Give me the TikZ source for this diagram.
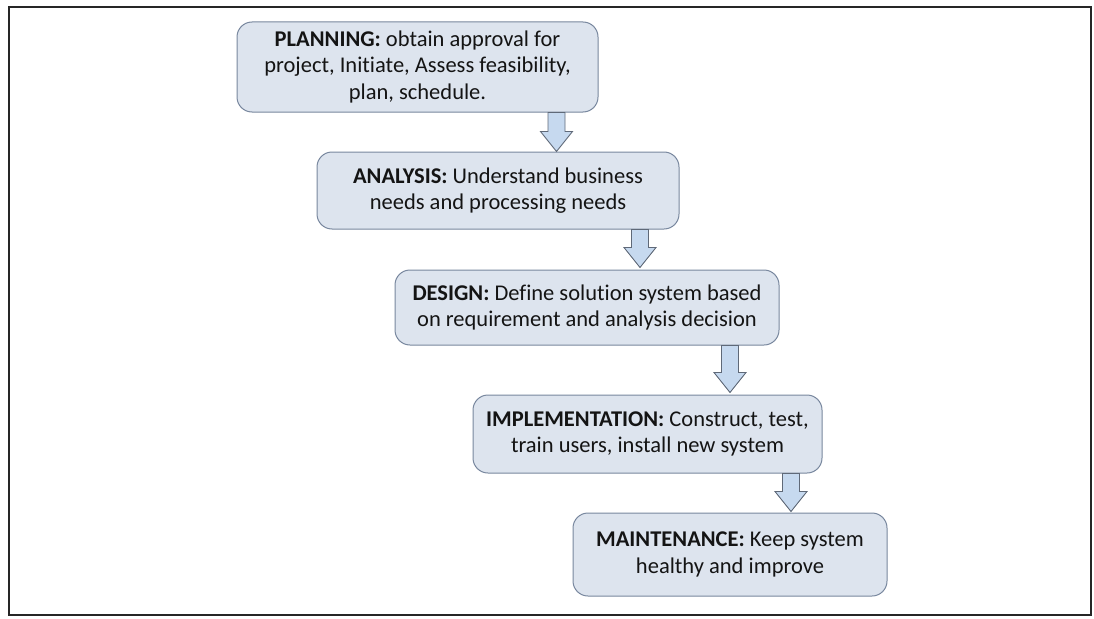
\documentclass[tikz,border=0pt]{standalone}
\usepackage{fontspec}
\setmainfont{Carlito}[Ligatures={NoCommon}]
\usetikzlibrary{calc}
\definecolor{boxfill}{RGB}{221,228,238}
\definecolor{boxline}{RGB}{120,135,158}
\definecolor{arrfill}{RGB}{198,217,239}
\definecolor{arrline}{RGB}{95,105,120}
\definecolor{txt}{RGB}{20,20,20}
\tikzset{
  stage/.style={draw=boxline, line width=1pt, fill=boxfill, rounded corners=15pt,
    inner sep=0pt, align=center, text=txt,
    font=\fontsize{22.5}{26.5}\selectfont},
  flowarrow/.style={draw=arrline, line width=0.9pt, fill=arrfill, line join=miter},
  frameline/.style={draw=black!85, line width=2.2pt}
}
\newcommand\blockarrow[2]{%
  \path[flowarrow] let \p1=(#1), \p2=(#2) in
    (\x1-8.5pt,\y1) -- (\x1-8.5pt,\y2+20pt) -- (\x1-16pt,\y2+20pt) --
    (\x1,\y2) -- (\x1+16pt,\y2+20pt) -- (\x1+8.5pt,\y2+20pt) --
    (\x1+8.5pt,\y1) -- cycle;}
\begin{document}
\begin{tikzpicture}[x=1pt,y=-1pt]
\useasboundingbox (0,0) rectangle (1094,618);
\draw[frameline] (9,7) rectangle (1091,615);

\node[stage, minimum width=361pt, minimum height=90pt] (plan) at (417.5,67)
  {\textbf{PLANNING:} obtain approval for\\project, Initiate, Assess feasibility,\\plan, schedule.};
\node[stage, minimum width=362pt, minimum height=77pt] (anal) at (498,190.5)
  {\textbf{ANALYSIS:} Understand business\\needs and processing needs};
\node[stage, minimum width=384pt, minimum height=75pt] (design) at (587,307.5)
  {\textbf{DESIGN:} Define solution system based\\on requirement and analysis decision};
\node[stage, minimum width=349pt, minimum height=78pt] (impl) at (647.5,434)
  {\textbf{IMPLEMENTATION:} Construct, test,\\train users, install new system};
\node[stage, minimum width=314pt, minimum height=83pt] (maint) at (730,554.5)
  {\textbf{MAINTENANCE:} Keep system\\healthy and improve};

\coordinate (c1) at (556.5,0);
\coordinate (c2) at (640,0);
\coordinate (c3) at (730,0);
\coordinate (c4) at (791,0);

\coordinate (a1s) at (plan.south -| c1);
\coordinate (a1e) at (anal.north -| c1);
\coordinate (a2s) at (anal.south -| c2);
\coordinate (a2e) at ($(design.north -| c2)+(0,-2)$);
\coordinate (a3s) at (design.south -| c3);
\coordinate (a3e) at ($(impl.north -| c3)+(0,-2)$);
\coordinate (a4s) at (impl.south -| c4);
\coordinate (a4e) at ($(maint.north -| c4)+(0,-1)$);

\blockarrow{a1s}{a1e}
\blockarrow{a2s}{a2e}
\blockarrow{a3s}{a3e}
\blockarrow{a4s}{a4e}
\end{tikzpicture}
\end{document}
